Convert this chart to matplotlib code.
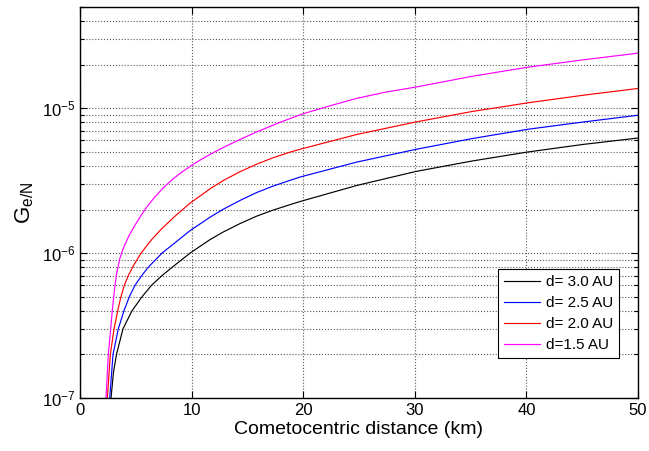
import numpy as np
import matplotlib
matplotlib.use("Agg")
import matplotlib.pyplot as plt
from matplotlib.ticker import LogLocator, FixedLocator, NullFormatter


plt.rcParams["font.family"] = ["Liberation Sans", "DejaVu Sans"]
plt.rcParams["mathtext.fontset"] = "custom"
plt.rcParams["mathtext.rm"] = "Liberation Sans"
plt.rcParams["mathtext.it"] = "Liberation Sans:italic"
plt.rcParams["mathtext.default"] = "regular"

# d = 3.0 AU
x_30 = [2.69, 2.78, 3.00, 3.27, 3.85, 4.66, 5.56, 6.41, 7.35, 8.27, 9.86,
        11.65, 12.84, 14.34, 15.83, 17.29, 18.82, 19.71, 24.79, 30.08, 35.1,
        40.12, 45.1, 50]
g_30 = [7e-8, 1.0e-7, 1.51e-7, 2.0e-7, 3.0e-7, 4.0e-7, 5.0e-7, 6.0e-7,
        7.0e-7, 8.0e-7, 1.0e-6, 1.24e-6, 1.40e-6, 1.60e-6, 1.80e-6, 1.98e-6,
        2.16e-6, 2.27e-6, 2.93e-6, 3.66e-6, 4.32e-6, 4.99e-6, 5.63e-6,
        6.23e-6]

# d = 2.5 AU
x_25 = [2.60, 2.66, 2.96, 3.43, 3.94, 4.42, 4.93, 5.53, 6.12, 7.35, 8.81,
        9.86, 11.65, 12.84, 14.34, 15.83, 17.29, 18.82, 19.71, 24.79, 30.08,
        35.1, 40.12, 45.1, 50]
g_25 = [6e-8, 1e-7, 2e-7, 3e-7, 4e-7, 5e-7, 6e-7, 7e-7, 8e-7, 1e-6, 1.23e-6,
        1.43e-6, 1.77e-6, 2.01e-6, 2.31e-6, 2.62e-6, 2.90e-6, 3.18e-6,
        3.35e-6, 4.25e-6, 5.2e-6, 6.17e-6, 7.16e-6, 8.04e-6, 8.95e-6]

# d = 2.0 AU
x_20 = [2.40, 2.45, 2.72, 3.05, 3.38, 3.67, 3.97, 4.33, 4.84, 5.47, 6.42,
        7.23, 8.51, 9.86, 11.65, 12.84, 14.34, 15.83, 17.29, 18.82, 19.71,
        24.79, 30.08, 35.1, 40.12, 45.1, 50]
g_20 = [6e-8, 1e-7, 2e-7, 3e-7, 4e-7, 5e-7, 6e-7, 7e-7, 8.33e-7, 1e-6,
        1.24e-6, 1.45e-6, 1.80e-6, 2.21e-6, 2.78e-6, 3.17e-6, 3.65e-6,
        4.11e-6, 4.55e-6, 4.98e-6, 5.21e-6, 6.59e-6, 8.04e-6, 9.49e-6,
        1.09e-5, 1.23e-5, 1.37e-5]

# d = 1.5 AU
x_15 = [2.27, 2.33, 2.54, 2.75, 2.89, 3.02, 3.14, 3.25, 3.40, 3.58, 3.76,
        3.99, 4.39, 4.93, 5.47, 6.0, 6.72, 7.44, 8.24, 9.05, 9.95, 10.75,
        11.65, 12.81, 14.34, 15.86, 17.92, 19.98, 22.4, 24.79, 27.33, 30.08,
        35.1, 40.12, 45.1, 50]
g_15 = [6e-8, 1e-7, 2e-7, 3e-7, 4e-7, 5e-7, 6e-7, 7e-7, 8e-7, 9.23e-7,
        1.02e-6, 1.13e-6, 1.32e-6, 1.56e-6, 1.82e-6, 2.09e-6, 2.45e-6,
        2.81e-6, 3.21e-6, 3.59e-6, 4.01e-6, 4.38e-6, 4.80e-6, 5.35e-6,
        6.09e-6, 6.88e-6, 8.0e-6, 9.16e-6, 1.04e-5, 1.17e-5, 1.29e-5,
        1.40e-5, 1.66e-5, 1.92e-5, 2.16e-5, 2.40e-5]

labels = ["d= 3.0 AU", "d= 2.5 AU", "d= 2.0 AU", "d=1.5 AU"]
colors = ["k", "#0000ff", "#ff0000", "#ff00ff"]

fig = plt.figure(figsize=(6.49, 4.51), dpi=100)
ax = fig.add_axes([80 / 649, 53 / 451, 558 / 649, 391 / 451])

series = [(x_30, g_30), (x_25, g_25), (x_20, g_20), (x_15, g_15)]
for (xs, gs), lab, col in zip(series, labels, colors):
    ax.plot(xs, gs, color=col, lw=0.85, label=lab)

ax.set_yscale("log")
ax.set_xlim(0, 50)
ax.set_ylim(1e-7, 5e-5)
ax.set_xticks([0, 10, 20, 30, 40, 50])
ax.yaxis.set_major_locator(FixedLocator([1e-7, 1e-6, 1e-5]))
ax.set_yticklabels([r"$10^{-7}$", r"$10^{-6}$", r"$10^{-5}$"])
ax.yaxis.set_minor_locator(LogLocator(base=10, subs=np.arange(2, 10), numticks=20))
ax.yaxis.set_minor_formatter(NullFormatter())

ax.grid(True, which="major", axis="both", ls=":", color="0.35", lw=0.8)
ax.grid(True, which="minor", axis="y", ls=":", color="0.35", lw=0.8)

ax.tick_params(which="both", direction="in", top=True, right=True,
               labelsize=12, width=0.8)
ax.tick_params(which="major", length=5)
ax.tick_params(which="minor", length=3)
for s in ax.spines.values():
    s.set_linewidth(1.0)

ax.set_xlabel("Cometocentric distance (km)", fontsize=14, labelpad=2)
ax.set_ylabel(r"$G_{e/N}$", fontsize=16, labelpad=4)

leg = ax.legend(loc="lower right", bbox_to_anchor=(0.966, 0.102),
                borderaxespad=0, fontsize=11, fancybox=False, framealpha=1,
                edgecolor="k", handlelength=2.3, labelspacing=0.45,
                borderpad=0.4, handletextpad=0.4)
leg.get_frame().set_linewidth(0.8)

fig.savefig("out.png", dpi=100)
